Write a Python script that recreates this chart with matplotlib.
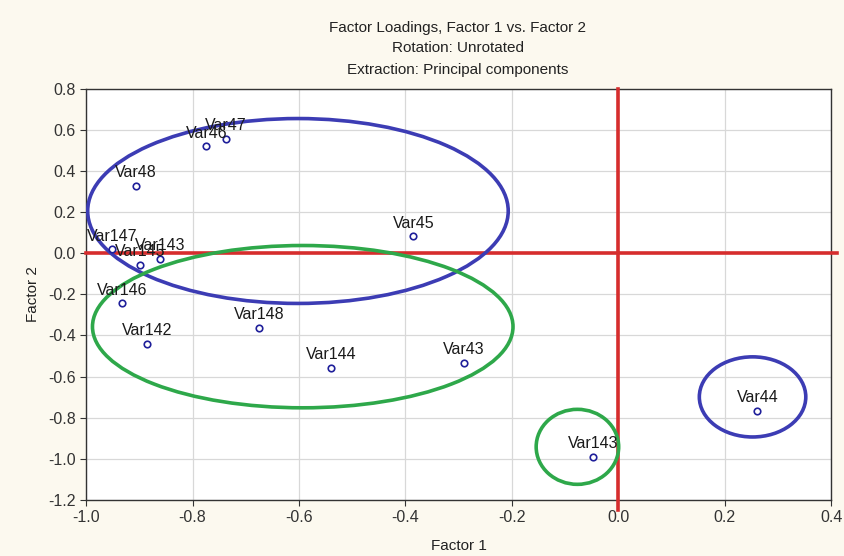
import matplotlib
matplotlib.use("Agg")
import matplotlib.pyplot as plt
from matplotlib.patches import Ellipse

names = ["Var47", "Var46", "Var48", "Var45", "Var147", "Var145", "Var143",
         "Var146", "Var142", "Var148", "Var144", "Var43", "Var143", "Var44"]
factor1 = [-0.737, -0.774, -0.906, -0.385, -0.951, -0.898, -0.861,
           -0.932, -0.885, -0.675, -0.539, -0.291, -0.047, 0.261]
factor2 = [0.558, 0.520, 0.330, 0.083, 0.020, -0.055, -0.027,
           -0.243, -0.440, -0.363, -0.558, -0.534, -0.990, -0.767]

# ellipses: center x, center y, width, height, colour
ell_cx = [-0.602, -0.593, -0.077, 0.252]
ell_cy = [0.206, -0.357, -0.942, -0.699]
ell_w = [0.79, 0.79, 0.155, 0.20]
ell_h = [0.90, 0.79, 0.365, 0.39]
ell_col = ["#3c3cb4", "#2ea84a", "#2ea84a", "#3c3cb4"]

xticks = [-1.0, -0.8, -0.6, -0.4, -0.2, 0.0, 0.2, 0.4]
yticks = [-1.2, -1.0, -0.8, -0.6, -0.4, -0.2, 0.0, 0.2, 0.4, 0.6, 0.8]

plt.rcParams['font.family'] = ['Liberation Sans', 'DejaVu Sans']
bg = "#fcf9ef"
fig = plt.figure(figsize=(8.44, 5.56), dpi=100, facecolor=bg)
ax = fig.add_axes([0.102, 0.101, 0.883, 0.739])
ax.set_facecolor("white")

ax.set_xlim(-1.0, 0.4)
ax.set_ylim(-1.2, 0.8)
ax.set_xticks(xticks)
ax.set_yticks(yticks)
ax.set_xticklabels([f"{v:.1f}" for v in xticks], fontsize=11.5)
ax.set_yticklabels([f"{v:.1f}" for v in yticks], fontsize=11.5)
ax.grid(True, color="#d8d8d8", lw=0.9)
ax.set_axisbelow(True)
ax.tick_params(direction="out", length=4, color="#333333", labelcolor="#333333")
for s in ax.spines.values():
    s.set_color("#333333")
    s.set_linewidth(1.0)

# red reference lines
ax.plot([-1.0, 0.41], [0, 0], color="#d62d2d", lw=2.6, clip_on=False, zorder=3)
ax.plot([0, 0], [0.8, -1.25], color="#d62d2d", lw=2.6, clip_on=False, zorder=3)

for cx, cy, w, h, c in zip(ell_cx, ell_cy, ell_w, ell_h, ell_col):
    ax.add_patch(Ellipse((cx, cy), w, h, fill=False, edgecolor=c, lw=2.6, zorder=4))

ax.scatter(factor1, factor2, s=22, facecolors="white", edgecolors="#1f1f9a",
           linewidths=1.2, zorder=5)
for n, x, y in zip(names, factor1, factor2):
    ax.annotate(n, (x, y), xytext=(0, 4), textcoords="offset points",
                ha="center", va="bottom", fontsize=11.5, color="#1a1a1a", zorder=6)

tfam = ['Liberation Sans Narrow', 'Liberation Sans', 'DejaVu Sans']
fig.text(0.5425, 0.949, "Factor Loadings, Factor 1 vs. Factor 2", ha="center",
         va="center", fontsize=11, family=tfam, color="#222222")
fig.text(0.5425, 0.913, "Rotation: Unrotated", ha="center", va="center",
         fontsize=11, family=tfam, color="#222222")
fig.text(0.5425, 0.874, "Extraction: Principal components", ha="center",
         va="center", fontsize=11, family=tfam, color="#222222")
ax.set_xlabel("Factor 1", fontsize=11, family=tfam, color="#222222", labelpad=10)
ax.set_ylabel("Factor 2", fontsize=11, family=tfam, color="#222222", labelpad=6)

fig.savefig("out.png", dpi=100, facecolor=bg)
